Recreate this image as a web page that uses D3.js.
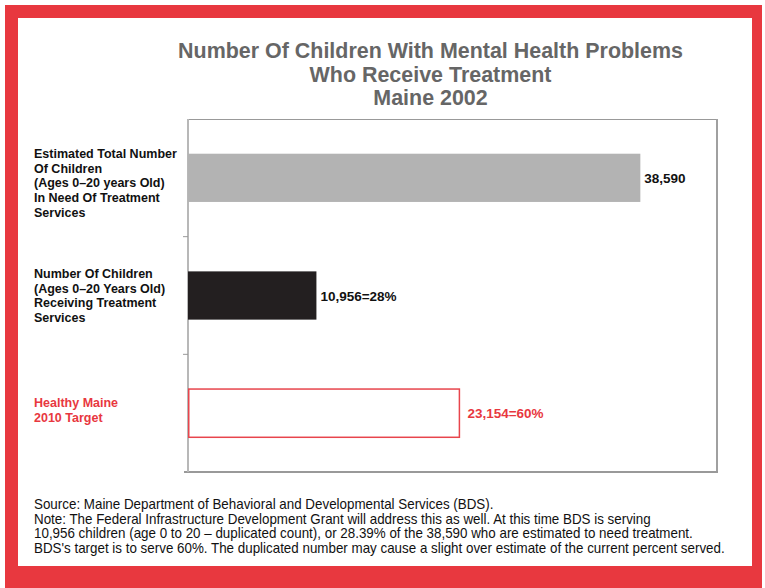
<!DOCTYPE html>
<html>
<head>
<meta charset="utf-8">
<script src="https://cdn.jsdelivr.net/npm/d3@7"></script>
<style>
  html, body { margin: 0; padding: 0; background: #fff; }
  svg { display: block; }
</style>
</head>
<body>
<svg id="chart" width="765" height="588"></svg>
<script>
// ---- data ----
const categories = ["total", "receiving", "target"];
const categoryLabels = [
  ["Estimated Total Number", "Of Children", "(Ages 0\u201320 years Old)", "In Need Of Treatment", "Services"],
  ["Number Of Children", "(Ages 0\u201320 Years Old)", "Receiving Treatment", "Services"],
  ["Healthy Maine", "2010 Target"]
];
const values = [38590, 10956, 23154];
const percents = [null, 28, 60];
const titleLines = [
  "Number Of Children With Mental Health Problems",
  "Who Receive Treatment",
  "Maine 2002"
];
const noteLines = [
  "Source: Maine Department of Behavioral and Developmental Services (BDS).",
  "Note: The Federal Infrastructure Development Grant will address this as well. At this time BDS is serving",
  "10,956 children (age 0 to 20 \u2013 duplicated count), or 28.39% of the 38,590 who are estimated to need treatment.",
  "BDS's target is to serve 60%. The duplicated number may cause a slight over estimate of the current percent served."
];

// ---- styles ----
const RED = "#e8383f";
const barStyle = [
  { fill: "#b3b3b3", stroke: "none", text: "#111" },
  { fill: "#231f20", stroke: "none", text: "#111" },
  { fill: "#fff", stroke: "#e8454c", text: RED }
];
const labelColor = ["#111", "#111", RED];
const labelNudge = [5, 0, -3];
const sans = "'Liberation Sans', Arial, Helvetica, sans-serif";

const svg = d3.select("#chart");

// red frame around the whole panel
svg.append("rect").attr("x", 5).attr("y", 5).attr("width", 757).attr("height", 590).attr("fill", RED);
svg.append("rect").attr("x", 18).attr("y", 18).attr("width", 734).attr("height", 548).attr("fill", "#fff");

// condensed text: a regular face squeezed horizontally so the widest line fits `width`
function condensedBlock(lines, opts) {
  const g = svg.append("g");
  const t = g.append("text")
    .attr("font-family", sans)
    .attr("font-weight", opts.weight || "normal")
    .attr("font-size", opts.size)
    .attr("fill", opts.fill)
    .attr("text-anchor", opts.anchor || "start");
  const spans = lines.map((s, k) => t.append("tspan").attr("x", 0).attr("y", opts.y0 + k * opts.lineH).text(s));
  const widest = d3.max(spans, s => s.node().getComputedTextLength());
  const sx = opts.width / widest;
  g.attr("transform", `translate(${opts.x},0) scale(${sx},1)`);
  return g;
}

// title
condensedBlock(titleLines, {
  x: 430.5, y0: 58.5, lineH: 23.5, size: 22, weight: "bold", fill: "#666", anchor: "middle", width: 505
});

// plot area
const plot = { left: 188, right: 717, top: 119, bottom: 472 };
const x = d3.scaleLinear().domain([0, 45130]).range([plot.left, plot.right]);
const y = d3.scaleBand().domain(categories).range([plot.top, plot.bottom]).padding(0);
const barH = y.bandwidth() * 0.41;

// frame lines
svg.append("line").attr("x1", plot.left).attr("x2", plot.right).attr("y1", plot.top + 0.5).attr("y2", plot.top + 0.5)
  .attr("stroke", "#999").attr("stroke-width", 1);
svg.append("line").attr("x1", plot.right).attr("x2", plot.right).attr("y1", plot.top).attr("y2", plot.bottom + 1)
  .attr("stroke", "#a0a0a0").attr("stroke-width", 2);
svg.append("line").attr("x1", plot.left - 4).attr("x2", plot.right + 1).attr("y1", plot.bottom).attr("y2", plot.bottom)
  .attr("stroke", "#999").attr("stroke-width", 2);
svg.append("line").attr("x1", plot.left).attr("x2", plot.left).attr("y1", plot.top).attr("y2", plot.bottom)
  .attr("stroke", "#b8b8b8").attr("stroke-width", 2);

// tick marks at the boundaries between categories
svg.selectAll("line.tick").data(categories.slice(1)).join("line")
  .attr("class", "tick")
  .attr("x1", plot.left - 5).attr("x2", plot.left)
  .attr("y1", d => y(d)).attr("y2", d => y(d))
  .attr("stroke", "#999").attr("stroke-width", 1);

// bars
const rows = categories.map((c, i) => ({ c, v: values[i], p: percents[i], i }));
svg.selectAll("rect.bar").data(rows).join("rect")
  .attr("class", "bar")
  .attr("x", d => x(0) + (d.i === 2 ? 0.75 : 0))
  .attr("y", d => y(d.c) + (y.bandwidth() - barH) / 2)
  .attr("width", d => x(d.v) - x(0) - (d.i === 2 ? 0.75 : 0))
  .attr("height", barH)
  .attr("fill", d => barStyle[d.i].fill)
  .attr("stroke", d => barStyle[d.i].stroke)
  .attr("stroke-width", 1.5);

// value labels
const fmt = d3.format(",");
svg.selectAll("text.value").data(rows).join("text")
  .attr("class", "value")
  .attr("x", d => x(d.v) + (d.i === 2 ? 8 : 4))
  .attr("y", d => y(d.c) + y.bandwidth() / 2 + 5)
  .attr("font-family", sans)
  .attr("font-weight", "bold")
  .attr("font-size", 13.5)
  .attr("fill", d => barStyle[d.i].text)
  .text(d => fmt(d.v) + (d.p != null ? "=" + d.p + "%" : ""));

// category labels
const lineH = 14.6;
rows.forEach(d => {
  const lines = categoryLabels[d.i];
  const cy = y(d.c) + y.bandwidth() / 2 + labelNudge[d.i];
  const first = cy - (lines.length - 1) * lineH / 2 + 4.5;
  const t = svg.append("text")
    .attr("font-family", sans)
    .attr("font-weight", "bold")
    .attr("font-size", 12.5)
    .attr("fill", labelColor[d.i]);
  lines.forEach((s, k) => t.append("tspan").attr("x", 34).attr("y", first + k * lineH).text(s));
});

// footnote
condensedBlock(noteLines, {
  x: 34, y0: 509.5, lineH: 14.5, size: 14, fill: "#111", width: 691
});
</script>
</body>
</html>
